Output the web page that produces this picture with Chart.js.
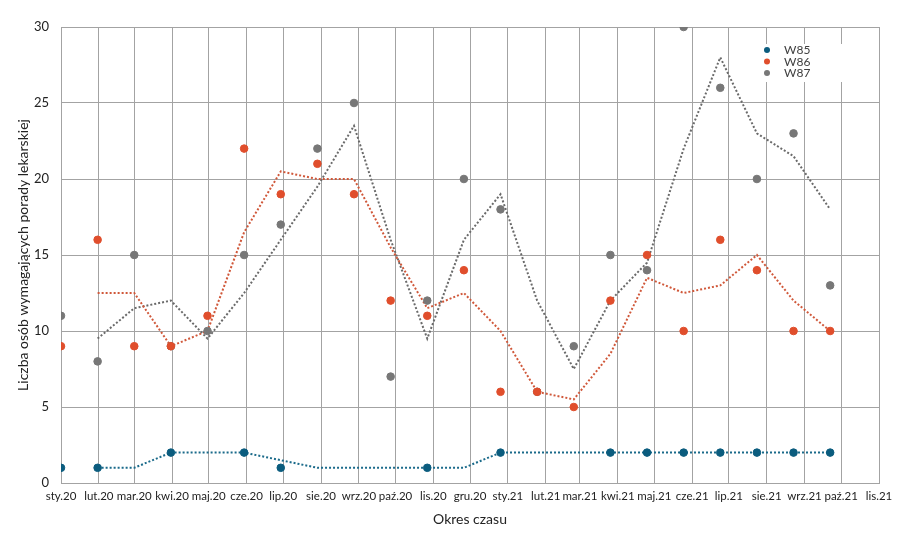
<!DOCTYPE html>
<html>
<head>
<meta charset="utf-8">
<script src="https://cdn.jsdelivr.net/npm/chart.js@4"></script>
<style>
  body { margin: 0; background: #fff; }
  #wrap { width: 909px; height: 538px; position: relative; }
</style>
</head>
<body>
<div id="wrap"><canvas id="chart"></canvas></div>
<script>
// month tick labels (gridline at the 1st of each month)
const monthLabels = ['sty.20', 'lut.20', 'mar.20', 'kwi.20', 'maj.20', 'cze.20', 'lip.20', 'sie.20', 'wrz.20', 'paź.20', 'lis.20', 'gru.20',
  'sty.21', 'lut.21', 'mar.21', 'kwi.21', 'maj.21', 'cze.21', 'lip.21', 'sie.21', 'wrz.21', 'paź.21', 'lis.21']

// measurement dates
const dates = ['2020-01-01', '2020-01-31', '2020-03-01', '2020-03-31', '2020-04-30', '2020-05-30', '2020-06-29', '2020-07-29',
  '2020-08-28', '2020-09-27', '2020-10-27', '2020-11-26', '2020-12-26', '2021-01-25', '2021-02-24', '2021-03-26',
  '2021-04-25', '2021-05-25', '2021-06-24', '2021-07-24', '2021-08-23', '2021-09-22']

const w85 = [1, 1, null, 2, null, 2, 1, null, null, null, 1, null, 2, null, null, 2, 2, 2, 2, 2, 2, 2]
const w86 = [9, 16, 9, 9, 11, 22, 19, 21, 19, 12, 11, 14, 6, 6, 5, 12, 15, 10, 16, 14, 10, 10]
const w87 = [11, 8, 15, 9, 10, 15, 17, 22, 25, 7, 12, 20, 18, 6, 9, 15, 14, 30, 26, 20, 23, 13]

// dotted trend lines
const w85Trend = [null, 1, 1, 2, 2, 2, 1.5, 1, 1, 1, 1, 1, 2, 2, 2, 2, 2, 2, 2, 2, 2, 2]
const w86Trend = [null, 12.5, 12.5, 9, 10, 16.5, 20.5, 20, 20, 15.5, 11.5, 12.5, 10, 6, 5.5, 8.5, 13.5, 12.5, 13, 15, 12, 10]
const w87Trend = [null, 9.5, 11.5, 12, 9.5, 12.5, 16, 19.5, 23.5, 16, 9.5, 16, 19, 12, 7.5, 12, 14.5, 22, 28, 23, 21.5, 18]

const DAY = 86400000
const start = Date.UTC(2020, 0, 1)
const dayOf = (s) => (Date.parse(s) - start) / DAY
const monthStarts = monthLabels.map((l, i) => (Date.UTC(2020, i, 1) - start) / DAY)

const toXY = (vals) => vals.map((v, i) => ({ x: dayOf(dates[i]), y: v })).filter(p => p.y !== null)

const FONT = 'Lato, "Open Sans", sans-serif'
const GRID = '#a3a3a3'

const pointSet = (label, vals, color) => ({
  label: label,
  data: toXY(vals),
  backgroundColor: color,
  borderColor: color,
  pointRadius: 3.8,
  pointHoverRadius: 4,
  showLine: false,
  order: 0
})
const trendSet = (label, vals, color, dash) => ({
  label: label,
  data: toXY(vals),
  borderColor: color,
  borderWidth: 2,
  borderDash: dash,
  pointRadius: 0,
  showLine: true,
  fill: false,
  order: 1,
  trend: true
})

const legendBox = {
  id: 'legendBox',
  afterDatasetsDraw(chart) {
    const ctx = chart.ctx
    ctx.save()
    ctx.fillStyle = '#fff'
    ctx.fillRect(752, 44, 96, 38)
    const items = chart.data.datasets.filter(d => !d.trend)
    items.forEach((d, i) => {
      const y = 50 + i * 11.5
      ctx.beginPath()
      ctx.fillStyle = d.backgroundColor
      ctx.arc(767, y, 3, 0, Math.PI * 2)
      ctx.fill()
      ctx.fillStyle = '#404040'
      ctx.font = '12px ' + FONT
      ctx.textBaseline = 'middle'
      ctx.fillText(d.label, 784, y + 0.5)
    })
    ctx.restore()
  }
}

new Chart(
  document.getElementById('chart'),
  {
    type: 'scatter',
    data: {
      datasets: [
        pointSet('W85', w85, '#0b5c7e'),
        pointSet('W86', w86, '#e04e2c'),
        pointSet('W87', w87, '#777777'),
        trendSet('W85 trend', w85Trend, '#1a6a8a', [2, 2]),
        trendSet('W86 trend', w86Trend, '#d0583a', [2, 2]),
        trendSet('W87 trend', w87Trend, '#6a6a6a', [2, 2])
      ]
    },
    plugins: [legendBox],
    options: {
      responsive: true,
      maintainAspectRatio: false,
      animation: false,
      layout: { padding: { top: 27, right: 30, left: 10, bottom: 0 } },
      plugins: {
        legend: { display: false },
        tooltip: { enabled: false }
      },
      scales: {
        x: {
          type: 'linear',
          min: 0,
          max: monthStarts[monthStarts.length - 1],
          afterBuildTicks: (scale) => {
            scale.ticks = monthStarts.map(v => ({ value: v }))
          },
          afterFit: (scale) => { scale.height = 55 },
          ticks: {
            autoSkip: false,
            maxRotation: 0,
            color: '#222',
            font: { family: FONT, size: 11.5 },
            padding: 6,
            callback: (v, i) => monthLabels[i]
          },
          grid: { color: GRID, drawTicks: false },
          border: { color: GRID },
          title: {
            display: true,
            text: 'Okres czasu',
            color: '#222',
            font: { family: FONT, size: 14 },
            padding: { top: 0, bottom: 10 }
          }
        },
        y: {
          min: 0,
          max: 30,
          afterFit: (scale) => { scale.width = 51 },
          ticks: {
            stepSize: 5,
            color: '#222',
            font: { family: FONT, size: 13 },
            padding: 12
          },
          grid: { color: GRID, drawTicks: false },
          border: { color: GRID },
          title: {
            display: true,
            text: 'Liczba osób wymagających porady lekarskiej',
            color: '#222',
            font: { family: FONT, size: 14 },
            padding: { top: 5, bottom: 0 }
          }
        }
      }
    }
  }
)
</script>
</body>
</html>
